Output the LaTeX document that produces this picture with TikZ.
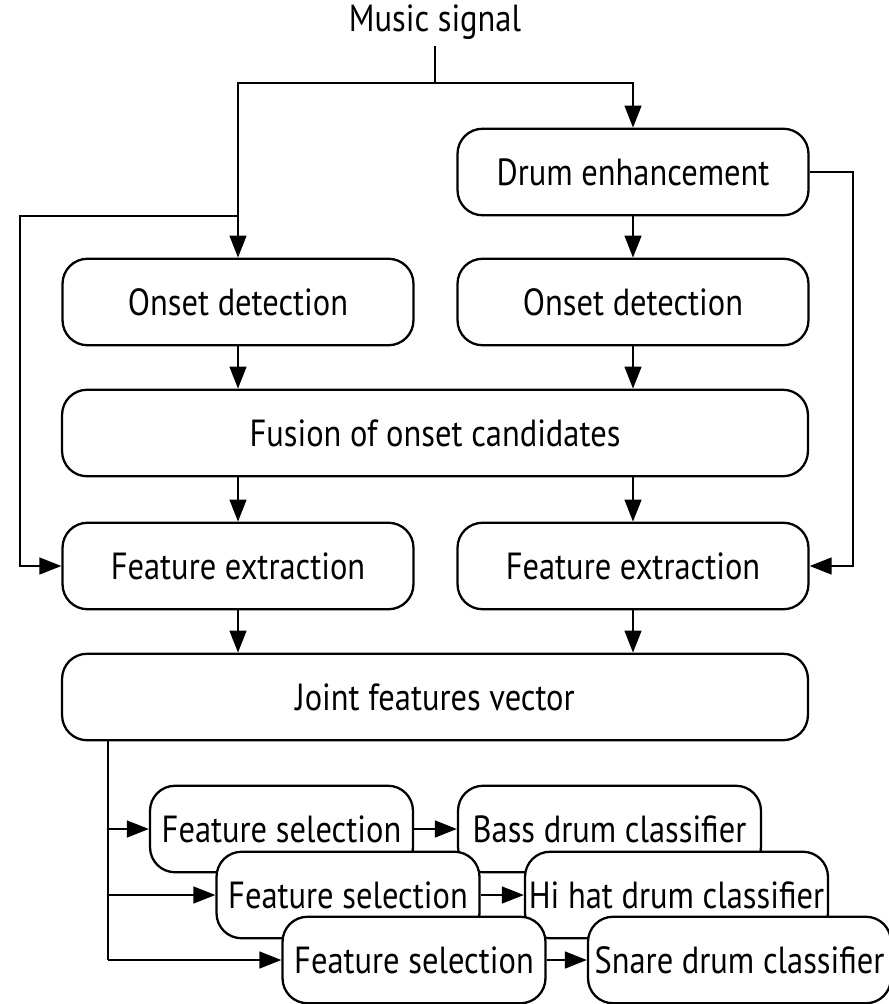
\documentclass[tikz,border=0pt]{standalone}
\usepackage{fontspec}
\setmainfont[FakeStretch=0.86]{PT Sans}
\usetikzlibrary{arrows.meta}
\begin{document}
\begin{tikzpicture}[x=0.02cm,y=-0.02cm,
  line width=1.3pt,
  every node/.style={font=\fontsize{21.5}{24}\selectfont},
  blk/.style={draw,fill=white,rounded corners=0.5cm,minimum height=1.73cm,inner sep=0pt,text depth=0pt},
  half/.style={blk,minimum width=7.02cm},
  full/.style={blk,minimum width=14.92cm},
  selbox/.style={blk,minimum width=5.26cm},
  clsbox/.style={blk,minimum width=6.06cm},
  arr/.style={-{Triangle[length=12.5pt,width=9.5pt]}}]
\useasboundingbox (0,0) rectangle (889,1004);

% input and enhancement stage
\node (music) at (435,22) {Music signal};
\node[half] (drum) at (633,172) {Drum enhancement};
\node[half] (onL) at (238,302) {Onset detection};
\node[half] (onR) at (633,302) {Onset detection};
\node[full] (fusion) at (435,433) {Fusion of onset candidates};
\node[half] (feL) at (238,566) {Feature extraction};
\node[half] (feR) at (633,566) {Feature extraction};
\node[full] (joint) at (435,697) {Joint features vector};

\coordinate (split) at (435,83);
\coordinate (tapL) at (238,216);
\coordinate (bendL) at (20,216);
\coordinate (bendR) at (853,172);
\coordinate (trunk) at (108,741);

\draw (music.south) -- (split);
\draw[arr] (split) -| (drum.north);
\draw[arr] (split) -| (onL.north);
\draw[arr] (tapL) -- (bendL) |- (feL.west);
\draw[arr] (drum.east) -- (bendR) |- (feR.east);
\draw[arr] (drum.south) -- (onR.north);
\draw[arr] (onL.south) -- (onL.south |- fusion.north);
\draw[arr] (onR.south) -- (onR.south |- fusion.north);
\draw[arr] (feL.north |- fusion.south) -- (feL.north);
\draw[arr] (feR.north |- fusion.south) -- (feR.north);
\draw[arr] (feL.south) -- (feL.south |- joint.north);
\draw[arr] (feR.south) -- (feR.south |- joint.north);

% classifier stack, drawn back to front
\node[selbox] (fs1) at (281.5,829) {Feature selection};
\node[clsbox] (bass) at (609.5,829) {Bass drum classifier};
\draw[arr] (fs1.east) -- (bass.west);
\node[selbox] (fs2) at (348,895) {Feature selection};
\node[clsbox] (hihat) at (676.5,895) {Hi hat drum classifier};
\draw[arr] (fs2.east) -- (hihat.west);
\node[selbox] (fs3) at (414,960) {Feature selection};
\node[clsbox] (snare) at (739.5,960) {Snare drum classifier};
\draw[arr] (fs3.east) -- (snare.west);

\draw (trunk) -- (trunk |- fs3.west);
\draw[arr] (trunk |- fs1.west) -- (fs1.west);
\draw[arr] (trunk |- fs2.west) -- (fs2.west);
\draw[arr] (trunk |- fs3.west) -- (fs3.west);
\end{tikzpicture}
\end{document}
